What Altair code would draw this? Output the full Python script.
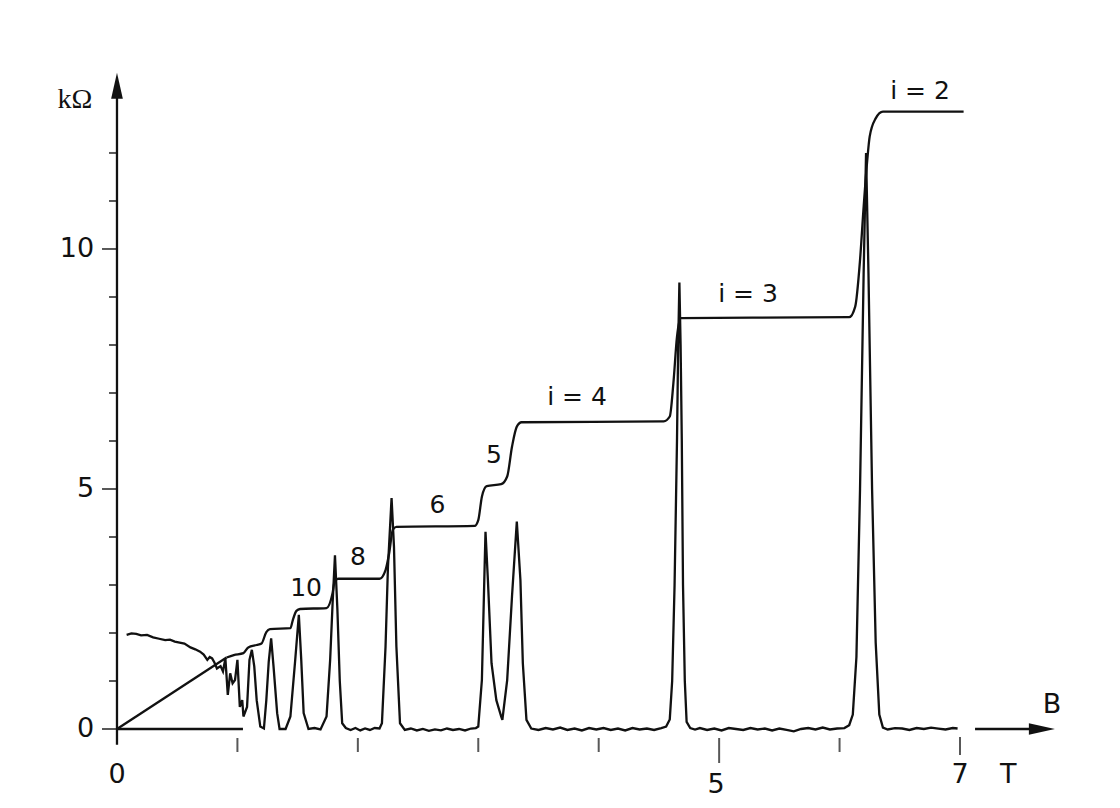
import altair as alt
import pandas as pd

# ---------------- data ----------------
# Longitudinal resistance (oscillating trace), B in tesla, R in kOhm
rxx_B = [0.08, 0.12, 0.16, 0.20, 0.25, 0.30, 0.35, 0.40, 0.44, 0.48, 0.52, 0.56, 0.61, 0.65,
         0.69, 0.72, 0.75, 0.77, 0.79, 0.81, 0.83, 0.86, 0.88, 0.90, 0.92, 0.94, 0.96, 0.98,
         1.00, 1.02, 1.04, 1.05, 1.08, 1.10, 1.12, 1.14, 1.16, 1.19, 1.22, 1.24, 1.26, 1.28,
         1.30, 1.33, 1.35, 1.40, 1.44, 1.48, 1.51, 1.53, 1.55, 1.59, 1.64, 1.69, 1.74, 1.77,
         1.79, 1.81, 1.83, 1.85, 1.87, 1.90, 1.94, 1.98, 2.02, 2.06, 2.10, 2.14, 2.18, 2.20,
         2.23, 2.25, 2.28, 2.30, 2.32, 2.35, 2.39, 2.44, 2.49, 2.54, 2.59, 2.64, 2.69, 2.74,
         2.79, 2.84, 2.89, 2.94, 2.98, 3.00, 3.03, 3.05, 3.06, 3.08, 3.11, 3.15, 3.19, 3.20,
         3.24, 3.28, 3.32, 3.35, 3.37, 3.40, 3.44, 3.50, 3.56, 3.62, 3.68, 3.74, 3.80, 3.86,
         3.92, 3.98, 4.04, 4.10, 4.16, 4.22, 4.28, 4.34, 4.40, 4.46, 4.52, 4.56, 4.59, 4.61,
         4.63, 4.65, 4.66, 4.67, 4.68, 4.69, 4.70, 4.715, 4.73, 4.76, 4.80, 4.84, 4.90, 4.96,
         5.02, 5.08, 5.14, 5.20, 5.26, 5.32, 5.38, 5.44, 5.50, 5.56, 5.62, 5.68, 5.74, 5.80,
         5.86, 5.92, 5.98, 6.04, 6.08, 6.11, 6.14, 6.17, 6.20, 6.22, 6.24, 6.27, 6.30, 6.33,
         6.36, 6.40, 6.46, 6.52, 6.58, 6.64, 6.70, 6.76, 6.82, 6.88, 6.94, 6.98]
rxx_R = [1.96, 1.99, 1.98, 1.95, 1.96, 1.91, 1.88, 1.85, 1.86, 1.82, 1.80, 1.78, 1.70, 1.66,
         1.61, 1.55, 1.44, 1.50, 1.47, 1.38, 1.26, 1.31, 1.20, 1.47, 0.71, 1.16, 0.95, 1.02,
         1.44, 0.46, 0.60, 0.26, 0.46, 1.44, 1.65, 1.30, 0.60, 0.05, 0.01, 0.60, 1.40, 1.89,
         1.30, 0.33, 0.00, 0.00, 0.26, 1.44, 2.38, 1.44, 0.33, 0.00, 0.02, -0.01, 0.26, 1.44,
         2.60, 3.62, 2.50, 1.00, 0.12, 0.02, -0.02, 0.02, -0.03, 0.01, -0.02, 0.02, 0.01, 0.12,
         1.72, 3.38, 4.81, 3.80, 1.72, 0.12, -0.02, 0.01, -0.03, 0.00, -0.04, -0.01, -0.03, 0.01,
         -0.02, 0.00, -0.03, 0.01, 0.02, 0.05, 1.02, 3.10, 4.11, 3.10, 1.37, 0.60, 0.26, 0.19,
         1.02, 2.76, 4.32, 3.10, 1.37, 0.19, 0.01, -0.02, 0.02, -0.01, 0.03, -0.02, 0.01, -0.03,
         0.02, -0.01, 0.02, -0.02, 0.01, -0.03, 0.02, -0.01, 0.01, -0.02, 0.02, 0.05, 0.20, 1.00,
         3.00, 6.00, 8.00, 9.30, 8.00, 6.00, 3.00, 1.00, 0.15, 0.02, -0.01, 0.02, -0.02, 0.01,
         -0.03, 0.02, 0.00, -0.02, 0.02, -0.01, 0.01, -0.03, 0.01, -0.02, -0.05, 0.00, 0.02, -0.01,
         0.03, -0.01, 0.01, 0.02, 0.08, 0.30, 1.50, 5.00, 9.50, 12.00, 9.50, 5.00, 1.80, 0.30,
         0.03, -0.01, 0.02, 0.01, -0.02, 0.02, 0.00, 0.03, 0.01, -0.01, 0.02, 0.01]

# Hall resistance: straight classical part, then the staircase
hall_lin_B = [0.00, 0.91]
hall_lin_R = [0.00, 1.49]
hall_B = [0.91, 0.97, 1.05, 1.09, 1.16, 1.20, 1.24, 1.27, 1.44, 1.46, 1.49, 1.52, 1.74,
          1.79, 1.81, 1.84, 2.18, 2.23, 2.26, 2.29, 2.32, 2.97, 3.00, 3.03, 3.07, 3.19, 3.24,
          3.28, 3.32, 3.36, 4.54, 4.59, 4.62, 4.65, 4.68, 6.08, 6.13, 6.17, 6.20, 6.23, 6.25,
          6.30, 6.36, 7.03]
hall_R = [1.49, 1.54, 1.58, 1.70, 1.75, 1.78, 2.02, 2.08, 2.10, 2.27, 2.46, 2.50, 2.52,
          2.83, 3.10, 3.13, 3.13, 3.31, 3.66, 4.15, 4.21, 4.23, 4.35, 4.84, 5.06, 5.10, 5.26,
          5.88, 6.30, 6.39, 6.41, 6.51, 7.20, 8.17, 8.56, 8.58, 8.80, 9.77, 10.88, 11.85, 12.34,
          12.72, 12.86, 12.86]

# plateau labels
lab_text = ["i = 2", "i = 3", "i = 4", "5", "6", "8", "10"]
lab_B = [6.668, 5.24, 3.82, 3.13, 2.66, 2.00, 1.57]
lab_R = [13.29, 9.06, 6.92, 5.71, 4.67, 3.58, 2.94]

# axis ticks and tick labels
y_minor = [1, 2, 3, 4, 6, 7, 8, 9, 11, 12]
y_major = [0, 5, 10]
y_labels = ["0", "5", "10"]
x_small = [1, 2, 3, 4, 6]
x_mid = [7]
x_long = [5]

# ---------------- geometry of the frame ----------------
W, H = 1100, 790
XDOM = [-0.905, 8.229]
YDOM = [-1.4375, 15.02]
xs = alt.Scale(domain=XDOM, nice=False, zero=False)
ys = alt.Scale(domain=YDOM, nice=False, zero=False)
INK = "#111111"
SANS = "DejaVu Sans"

def X(field="B"):
    return alt.X(f"{field}:Q", scale=xs, axis=None)

def Y(field="R"):
    return alt.Y(f"{field}:Q", scale=ys, axis=None)

rxx = pd.DataFrame({"B": rxx_B, "R": rxx_R})
hall = pd.DataFrame({"B": hall_B, "R": hall_R})
hall_lin = pd.DataFrame({"B": hall_lin_B, "R": hall_lin_R})
labs = pd.DataFrame({"B": lab_B, "R": lab_R, "t": lab_text})

rxx_line = alt.Chart(rxx).mark_line(color=INK, strokeWidth=2.3).encode(x=X(), y=Y(), order="B:Q")
hall_line = alt.Chart(hall).mark_line(color=INK, strokeWidth=2.3, interpolate="monotone").encode(
    x=X(), y=Y(), order="B:Q")
hall_lin_line = alt.Chart(hall_lin).mark_line(color=INK, strokeWidth=2.3).encode(
    x=X(), y=Y(), order="B:Q")

labels = alt.Chart(labs).mark_text(font=SANS, fontSize=25, color=INK, baseline="middle").encode(
    x=X(), y=Y(), text="t:N")

# axes drawn with the same scales
yaxis = alt.Chart(pd.DataFrame({"B": [0.0], "R": [-0.33], "R2": [13.2]})).mark_rule(
    color=INK, strokeWidth=2.3).encode(x=X(), y=Y(), y2="R2:Q")
zero_seg = alt.Chart(pd.DataFrame({"B": [0.0], "B2": [1.046], "R": [0.0]})).mark_rule(
    color=INK, strokeWidth=2.3).encode(x=X(), x2="B2:Q", y=Y())
xarrow_line = alt.Chart(pd.DataFrame({"B": [7.125], "B2": [7.64], "R": [0.0]})).mark_rule(
    color=INK, strokeWidth=2.3).encode(x=X(), x2="B2:Q", y=Y())

up_head = alt.Chart(pd.DataFrame({"B": [0.0], "R": [13.4]})).mark_point(
    shape="M0,-1L0.45,1L-0.45,1Z", filled=True, size=676, color=INK, opacity=1).encode(x=X(), y=Y())
right_head = alt.Chart(pd.DataFrame({"B": [7.68], "R": [0.0]})).mark_point(
    shape="M1,0L-1,0.45L-1,-0.45Z", filled=True, size=676, color=INK, opacity=1).encode(x=X(), y=Y())

ytick_minor = alt.Chart(pd.DataFrame({"R": y_minor, "B": [-0.033] * len(y_minor)})).mark_tick(
    orient="horizontal", size=8, thickness=2, color=INK).encode(x=X(), y=Y())
ytick_major = alt.Chart(pd.DataFrame({"R": y_major, "B": [-0.062] * len(y_major)})).mark_tick(
    orient="horizontal", size=15, thickness=2, color=INK).encode(x=X(), y=Y())
ylab = alt.Chart(pd.DataFrame({"R": y_major, "B": [-0.19] * 3, "t": y_labels})).mark_text(
    font=SANS, fontSize=27, align="right", baseline="middle", color=INK).encode(x=X(), y=Y(), text="t:N")

xt_small = alt.Chart(pd.DataFrame({"B": x_small, "R": [-0.333] * len(x_small)})).mark_tick(
    orient="vertical", size=14, thickness=2, color=INK).encode(x=X(), y=Y())
xt_mid = alt.Chart(pd.DataFrame({"B": x_mid, "R": [-0.354]})).mark_tick(
    orient="vertical", size=18, thickness=2, color=INK).encode(x=X(), y=Y())
xt_long = alt.Chart(pd.DataFrame({"B": x_long, "R": [-0.448]})).mark_tick(
    orient="vertical", size=25, thickness=2, color=INK).encode(x=X(), y=Y())

xlab = alt.Chart(pd.DataFrame({"B": [0.0, 4.975, 7.0, 7.40], "R": [-0.958, -1.167, -0.958, -0.958],
                               "t": ["0", "5", "7", "T"]})).mark_text(
    font=SANS, fontSize=27, color=INK, baseline="middle").encode(x=X(), y=Y(), text="t:N")
blab = alt.Chart(pd.DataFrame({"B": [7.765], "R": [0.5], "t": ["B"]})).mark_text(
    font=SANS, fontSize=27, color=INK, baseline="middle").encode(x=X(), y=Y(), text="t:N")
unit = alt.Chart(pd.DataFrame({"B": [-0.349], "R": [13.1], "t": ["kΩ"]})).mark_text(
    font="Liberation Serif", fontSize=28, color=INK, baseline="middle").encode(x=X(), y=Y(), text="t:N")

chart = alt.layer(
    zero_seg, yaxis, xarrow_line, up_head, right_head,
    ytick_minor, ytick_major, ylab, xt_small, xt_mid, xt_long, xlab, blab, unit,
    rxx_line, hall_lin_line, hall_line, labels,
).properties(
    width=W, height=H, padding=0, autosize=alt.AutoSizeParams(type="none"),
    view=alt.ViewBackground(strokeWidth=0, stroke="transparent"),
).configure_view(strokeWidth=0, stroke="transparent").configure(background="white")

chart.save("out.html", embed_options={"renderer": "svg", "actions": False})
